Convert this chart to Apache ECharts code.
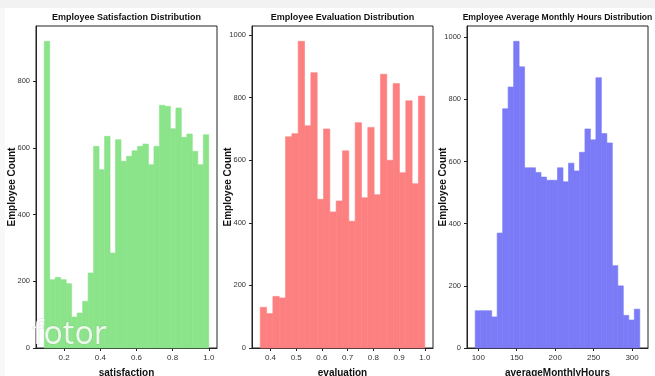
<!DOCTYPE html>
<html>
<head>
<meta charset="utf-8">
<script src="https://cdn.jsdelivr.net/npm/echarts@6/dist/echarts.min.js"></script>
</head>
<body style="margin:0;background:#fff">
<div id="main" style="width:655px;height:376px"></div>
<script>
// histogram counts
var satisfactionCounts = [920, 205, 212, 205, 193, 93, 105, 140, 225, 605, 535, 635, 285, 625, 560,
                          575, 592, 605, 612, 550, 605, 728, 725, 658, 720, 632, 642, 590, 550, 640];
var evaluationCounts = [130, 110, 165, 160, 675, 685, 980, 710, 880, 475, 700, 435, 470,
                        630, 405, 720, 480, 705, 490, 875, 600, 845, 560, 790, 525, 805];
var hoursCounts = [120, 120, 120, 100, 370, 770, 840, 987, 905, 580, 580, 565, 550, 540, 540,
                   580, 535, 595, 570, 630, 705, 670, 870, 690, 660, 265, 200, 105, 90, 125];

// data range of each histogram (bins are equal width between these)
var satisfactionRange = [0.09, 1.0];
var evaluationRange = [0.36, 1.0];
var hoursRange = [96, 310];

var satisfactionTicks = [0.2, 0.4, 0.6, 0.8, 1.0];
var evaluationTicks = [0.4, 0.5, 0.6, 0.7, 0.8, 0.9, 1.0];
var hoursTicks = [100, 150, 200, 250, 300];
var countTicks = [0, 200, 400, 600, 800, 1000];

var titles = ['Employee Satisfaction Distribution', 'Employee Evaluation Distribution',
              'Employee Average Monthly Hours Distribution'];
var xNames = ['satisfaction', 'evaluation', 'averageMonthlyHours'];

var font = "'Liberation Sans', Arial, sans-serif";

function bins(counts, range) {
    var w = (range[1] - range[0]) / counts.length;
    return counts.map(function (c, i) {
        return [range[0] + i * w, range[0] + (i + 1) * w, c];
    });
}

var panels = [
    {counts: satisfactionCounts, range: satisfactionRange, ticks: satisfactionTicks, color: '#8be489', dec: 1, left: 36},
    {counts: evaluationCounts, range: evaluationRange, ticks: evaluationTicks, color: '#fd8080', dec: 1, left: 252},
    {counts: hoursCounts, range: hoursRange, ticks: hoursTicks, color: '#7b7bf7', dec: 0, left: 467}
];

var gridW = 181, gridTop = 26, gridH = 322;

var option = {
    animation: false,
    backgroundColor: '#fff',
    title: [],
    grid: [],
    xAxis: [],
    yAxis: [],
    series: [],
    graphic: [
        {type: 'rect', shape: {x: 0, y: 0, width: 655, height: 8}, style: {fill: '#f2f2f2'}, z: -1},
        {type: 'rect', shape: {x: 0, y: 8, width: 5, height: 368}, style: {fill: '#f8f8f8'}, z: -1},
        {type: 'text', left: 32, top: 318, z: 100,
         style: {text: 'fotor', fontSize: 32, fontFamily: 'Noto Sans', fill: 'rgba(255,255,255,0.82)',
                 stroke: 'rgba(120,120,120,0.22)', lineWidth: 1}}
    ]
};

panels.forEach(function (p, i) {
    var span = p.range[1] - p.range[0];
    var yMax = Math.max.apply(null, p.counts) * 1.05;
    var yTicks = countTicks.filter(function (t) { return t <= yMax; });

    option.title.push({
        text: titles[i], left: p.left + gridW / 2, top: 13, textAlign: 'center', padding: 0,
        textStyle: {fontSize: i === 2 ? 8.6 : 9, fontWeight: 'bold', fontFamily: font, color: '#111'}
    });
    option.grid.push({
        left: p.left, top: gridTop, width: gridW, height: gridH, outerBoundsMode: 'none',
        show: true, borderColor: '#222', borderWidth: 1, backgroundColor: 'transparent'
    });
    option.xAxis.push({
        gridIndex: i, type: 'value',
        min: p.range[0] - span * 0.05, max: p.range[1] + span * 0.05,
        name: xNames[i], nameLocation: 'middle', nameGap: 20, nameMoveOverlap: false,
        nameTextStyle: {fontWeight: 'bold', fontSize: 10, fontFamily: font, color: '#111'},
        axisLine: {show: true, onZero: false, lineStyle: {color: '#222', width: 1}},
        axisTick: {show: true, length: 3, customValues: p.ticks, lineStyle: {color: '#222'}},
        axisLabel: {
            customValues: p.ticks, margin: 6, fontSize: 8, fontFamily: font, color: '#333',
            formatter: function (v) { return v.toFixed(p.dec); }
        },
        splitLine: {show: false}
    });
    option.yAxis.push({
        gridIndex: i, type: 'value', min: 0, max: yMax,
        name: 'Employee Count', nameLocation: 'middle', nameGap: 19, nameRotate: 90,
        nameMoveOverlap: false,
        nameTextStyle: {fontWeight: 'bold', fontSize: 10, fontFamily: font, color: '#111'},
        axisLine: {show: true, lineStyle: {color: '#222', width: 1}},
        axisTick: {show: true, length: 3, customValues: yTicks, lineStyle: {color: '#222'}},
        axisLabel: {
            customValues: yTicks, margin: 6, fontSize: 7.5, fontFamily: font, color: '#333',
            formatter: function (v) { return String(v); }
        },
        splitLine: {show: false}
    });
    option.series.push({
        type: 'custom', xAxisIndex: i, yAxisIndex: i,
        data: bins(p.counts, p.range),
        encode: {x: [0, 1], y: 2},
        renderItem: function (params, api) {
            var a = api.coord([api.value(0), api.value(2)]);
            var b = api.coord([api.value(1), 0]);
            return {
                type: 'rect',
                shape: {x: a[0], y: a[1], width: b[0] - a[0], height: b[1] - a[1]},
                style: {fill: p.color, stroke: p.color, lineWidth: 0.6}
            };
        }
    });
});

var chart = echarts.init(document.getElementById('main'));
chart.setOption(option);
</script>
</body>
</html>
